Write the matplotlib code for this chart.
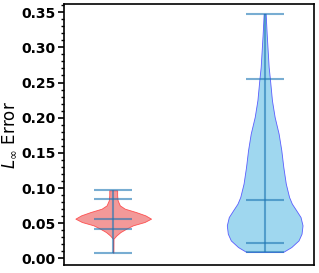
import numpy as np
import matplotlib
matplotlib.use("Agg")
import matplotlib.pyplot as plt
from matplotlib.ticker import MultipleLocator, AutoMinorLocator

# violin outlines: error value -> relative half width
red_coords = [0.0081, 0.0280, 0.0327, 0.0374, 0.0423, 0.0470, 0.0517, 0.0565,
              0.0612, 0.0659, 0.0707, 0.0754, 0.0825, 0.0896, 0.0968]
red_vals = [0.2, 0.3, 3.3, 7.3, 13.3, 20.0, 31.7, 38.3,
            32.5, 23.0, 11.7, 6.7, 4.5, 4.0, 4.0]
red_stats = {"min": 0.0081, "max": 0.0968, "median": 0.0555,
             "quantiles": [0.0413, 0.0840]}

blue_coords = [0.0090, 0.0161, 0.0256, 0.0351, 0.0470, 0.0588, 0.0683, 0.0778,
               0.0873, 0.1063, 0.1300, 0.1537, 0.1774, 0.2011, 0.2248, 0.2547,
               0.2722, 0.2960, 0.3197, 0.3477]
blue_vals = [18.3, 26.7, 34.0, 37.0, 38.0, 36.0, 31.7, 27.3,
             24.5, 21.2, 18.7, 16.7, 14.0, 10.0, 7.3, 5.3,
             4.0, 3.0, 2.0, 1.0]
blue_stats = {"min": 0.0090, "max": 0.3477, "median": 0.0835,
              "quantiles": [0.0223, 0.2547]}

positions = [1, 2]

vpstats = []
for coords, vals, st in [(red_coords, red_vals, red_stats),
                         (blue_coords, blue_vals, blue_stats)]:
    vpstats.append({"coords": np.array(coords), "vals": np.array(vals),
                    "mean": st["median"], "median": st["median"],
                    "min": st["min"], "max": st["max"],
                    "quantiles": np.array(st["quantiles"])})

fig = plt.figure(figsize=(3.19, 2.73), dpi=100)
ax = fig.add_axes([0.2006, 0.029, 0.7834, 0.956])

parts = ax.violin(vpstats, positions=positions, widths=0.5,
                  showmeans=False, showextrema=True, showmedians=True)

faces = ["lightcoral", "skyblue"]
edges = [(1.0, 0.2, 0.2, 0.8), (0.3, 0.3, 1.0, 0.9)]
for body, fc, ec in zip(parts["bodies"], faces, edges):
    body.set_alpha(None)
    body.set_facecolor(matplotlib.colors.to_rgba(fc, 0.8))
    body.set_edgecolor(ec)
    body.set_linewidth(0.6)

for key in ["cbars", "cmins", "cmaxes", "cmedians", "cquantiles"]:
    if key in parts:
        parts[key].set_color("C0")
        parts[key].set_alpha(0.6)
        parts[key].set_linewidth(1.5)

ax.set_xlim(0.675, 2.325)
ax.set_ylim(-0.0095, 0.3615)
ax.set_xticks([])
ax.yaxis.set_major_locator(MultipleLocator(0.05))
ax.yaxis.set_minor_locator(AutoMinorLocator(5))
ax.yaxis.set_major_formatter(matplotlib.ticker.FormatStrFormatter("%.2f"))
for lab in ax.get_yticklabels():
    lab.set_fontweight("bold")
ax.tick_params(axis="y", labelsize=10, width=1.2, length=4, pad=2)
ax.tick_params(axis="y", which="minor", width=1, length=2)
ax.set_ylabel(r"$L_\infty$ Error", fontsize=12, labelpad=2)
for sp in ax.spines.values():
    sp.set_linewidth(1.2)

fig.savefig("out.png", dpi=100)
